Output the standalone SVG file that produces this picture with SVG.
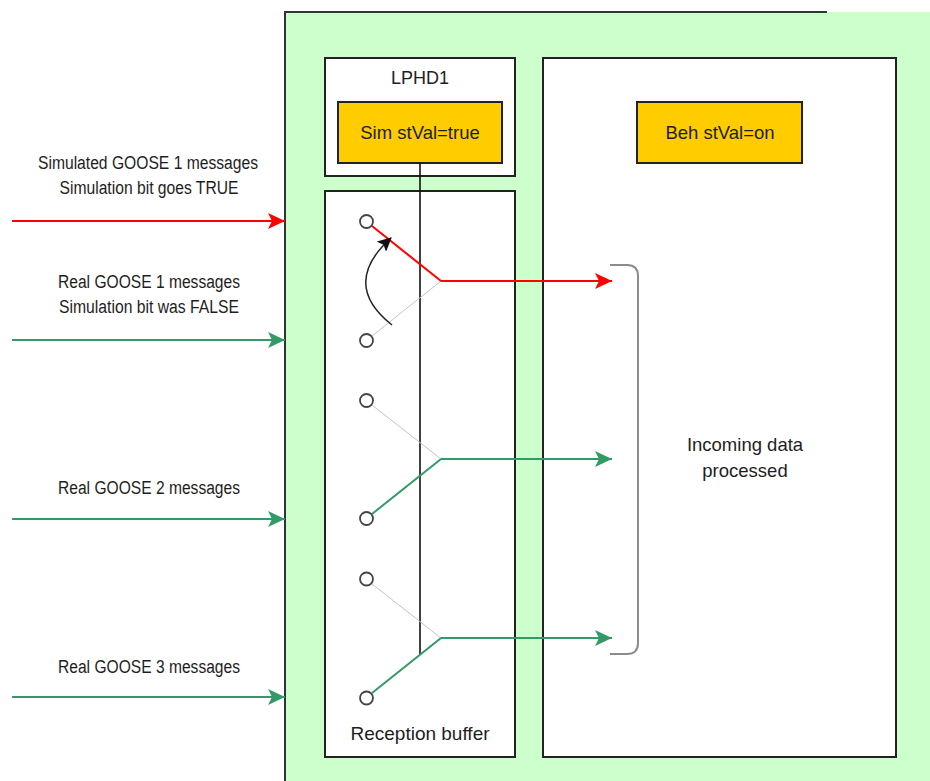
<svg xmlns="http://www.w3.org/2000/svg" width="930" height="781" viewBox="0 0 930 781">
  <style>
    .lbl { font-family: "Liberation Sans", Arial, sans-serif; fill: #1e1e1e; text-anchor: middle; }
    .box { fill: #ffffff; stroke: #222222; stroke-width: 2; }
    .state { fill: #ffcc00; stroke: #222222; stroke-width: 2; }
    .red { stroke: #ff0000; stroke-width: 2; fill: none; }
    .grn { stroke: #339966; stroke-width: 2; fill: none; }
    .off { stroke: #c4c4c4; stroke-width: 1; fill: none; }
    .pin { fill: #ffffff; stroke: #444444; stroke-width: 1.8; }
  </style>
  <defs>
    <marker id="ahRed" markerWidth="17" markerHeight="16" viewBox="0 0 17 16" refX="17" refY="8" orient="auto" markerUnits="userSpaceOnUse">
      <path d="M0,0 L17,8 L0,16 L4,8 Z" fill="#ff0000"/>
    </marker>
    <marker id="ahGrn" markerWidth="17" markerHeight="16" viewBox="0 0 17 16" refX="17" refY="8" orient="auto" markerUnits="userSpaceOnUse">
      <path d="M0,0 L17,8 L0,16 L4,8 Z" fill="#339966"/>
    </marker>
    <marker id="ahBlk" markerWidth="14" markerHeight="14" viewBox="0 0 14 14" refX="13" refY="7" orient="auto" markerUnits="userSpaceOnUse">
      <path d="M0,0 L14,7 L0,14 L3,7 Z" fill="#111111"/>
    </marker>
  </defs>

  <rect width="930" height="781" fill="#ffffff"/>

  <!-- IED enclosure -->
  <g id="ied">
    <rect x="285" y="12" width="645" height="769" fill="#ccffcc"/>
    <line x1="285" y1="12" x2="827" y2="12" stroke="#333333" stroke-width="2"/>
    <line x1="285" y1="11" x2="285" y2="781" stroke="#333333" stroke-width="2"/>
  </g>

  <!-- LPHD1 logical node -->
  <g id="lphd1">
    <rect class="box" x="325" y="58" width="190" height="118"/>
    <text class="lbl" x="420" y="84" font-size="18">LPHD1</text>
  </g>
  <g id="sim">
    <rect class="state" x="338" y="102" width="164" height="61"/>
    <text class="lbl" x="420" y="139" font-size="18.5">Sim stVal=true</text>
  </g>

  <!-- application side -->
  <g id="app">
    <rect class="box" x="543" y="58" width="353" height="699"/>
    <text class="lbl" x="745" y="451" font-size="18.5">Incoming data</text>
    <text class="lbl" x="745" y="477" font-size="18.5">processed</text>
  </g>
  <g id="beh">
    <rect class="state" x="637" y="102" width="165" height="61"/>
    <text class="lbl" x="720" y="139" font-size="18.5">Beh stVal=on</text>
  </g>

  <!-- reception buffer -->
  <g id="buffer">
    <rect class="box" x="325" y="191" width="190" height="566"/>
    <text class="lbl" x="420" y="740" font-size="19">Reception buffer</text>
  </g>

  <!-- bracket grouping the delivered streams -->
  <g id="bracket">
    <path d="M610,265 H627 Q638,265 638,276 V643 Q638,654 627,654 H610" fill="none" stroke="#8c8c8c" stroke-width="2"/>
  </g>

  <!-- external labels -->
  <g id="labels">
    <text class="lbl" x="148" y="169" font-size="18" textLength="220" lengthAdjust="spacingAndGlyphs">Simulated GOOSE 1 messages</text>
    <text class="lbl" x="149" y="194" font-size="18" textLength="179" lengthAdjust="spacingAndGlyphs">Simulation bit goes TRUE</text>
    <text class="lbl" x="149" y="288" font-size="18" textLength="182" lengthAdjust="spacingAndGlyphs">Real GOOSE 1 messages</text>
    <text class="lbl" x="149" y="313" font-size="18" textLength="180" lengthAdjust="spacingAndGlyphs">Simulation bit was FALSE</text>
    <text class="lbl" x="149" y="494" font-size="18" textLength="182" lengthAdjust="spacingAndGlyphs">Real GOOSE 2 messages</text>
    <text class="lbl" x="149" y="673" font-size="18" textLength="182" lengthAdjust="spacingAndGlyphs">Real GOOSE 3 messages</text>
  </g>

  <!-- connectors -->
  <g id="connectors">
    <!-- incoming streams -->
    <line class="red" x1="12" y1="221" x2="285" y2="221" marker-end="url(#ahRed)"/>
    <line class="grn" x1="12" y1="340" x2="285" y2="340" marker-end="url(#ahGrn)"/>
    <line class="grn" x1="12" y1="519" x2="285" y2="519" marker-end="url(#ahGrn)"/>
    <line class="grn" x1="12" y1="697" x2="285" y2="697" marker-end="url(#ahGrn)"/>

    <!-- Sim control link -->
    <line x1="420" y1="163" x2="420" y2="654" stroke="#111111" stroke-width="1.6"/>

    <!-- switch 1: simulated input selected -->
    <line class="off" x1="372" y1="336" x2="441" y2="281"/>
    <line class="red" x1="372" y1="226" x2="441" y2="281"/>
    <line class="red" x1="441" y1="281" x2="612" y2="281" marker-end="url(#ahRed)"/>
    <path d="M392,325 Q340,284 391,238" fill="none" stroke="#222222" stroke-width="1.5" marker-end="url(#ahBlk)"/>

    <!-- switch 2 -->
    <line class="off" x1="372" y1="405" x2="441" y2="459"/>
    <line class="grn" x1="372" y1="514" x2="441" y2="459"/>
    <line class="grn" x1="441" y1="459" x2="612" y2="459" marker-end="url(#ahGrn)"/>

    <!-- switch 3 -->
    <line class="off" x1="372" y1="584" x2="441" y2="638"/>
    <line class="grn" x1="372" y1="693" x2="441" y2="638"/>
    <line class="grn" x1="441" y1="638" x2="612" y2="638" marker-end="url(#ahGrn)"/>
  </g>

  <!-- switch contacts -->
  <g id="contacts">
    <circle class="pin" cx="366.5" cy="221.5" r="6.5"/>
    <circle class="pin" cx="366.5" cy="340.5" r="6.5"/>
    <circle class="pin" cx="366.5" cy="400.5" r="6.5"/>
    <circle class="pin" cx="366.5" cy="518.5" r="6.5"/>
    <circle class="pin" cx="366.5" cy="579" r="6.5"/>
    <circle class="pin" cx="366.5" cy="698" r="6.5"/>
  </g>
</svg>
